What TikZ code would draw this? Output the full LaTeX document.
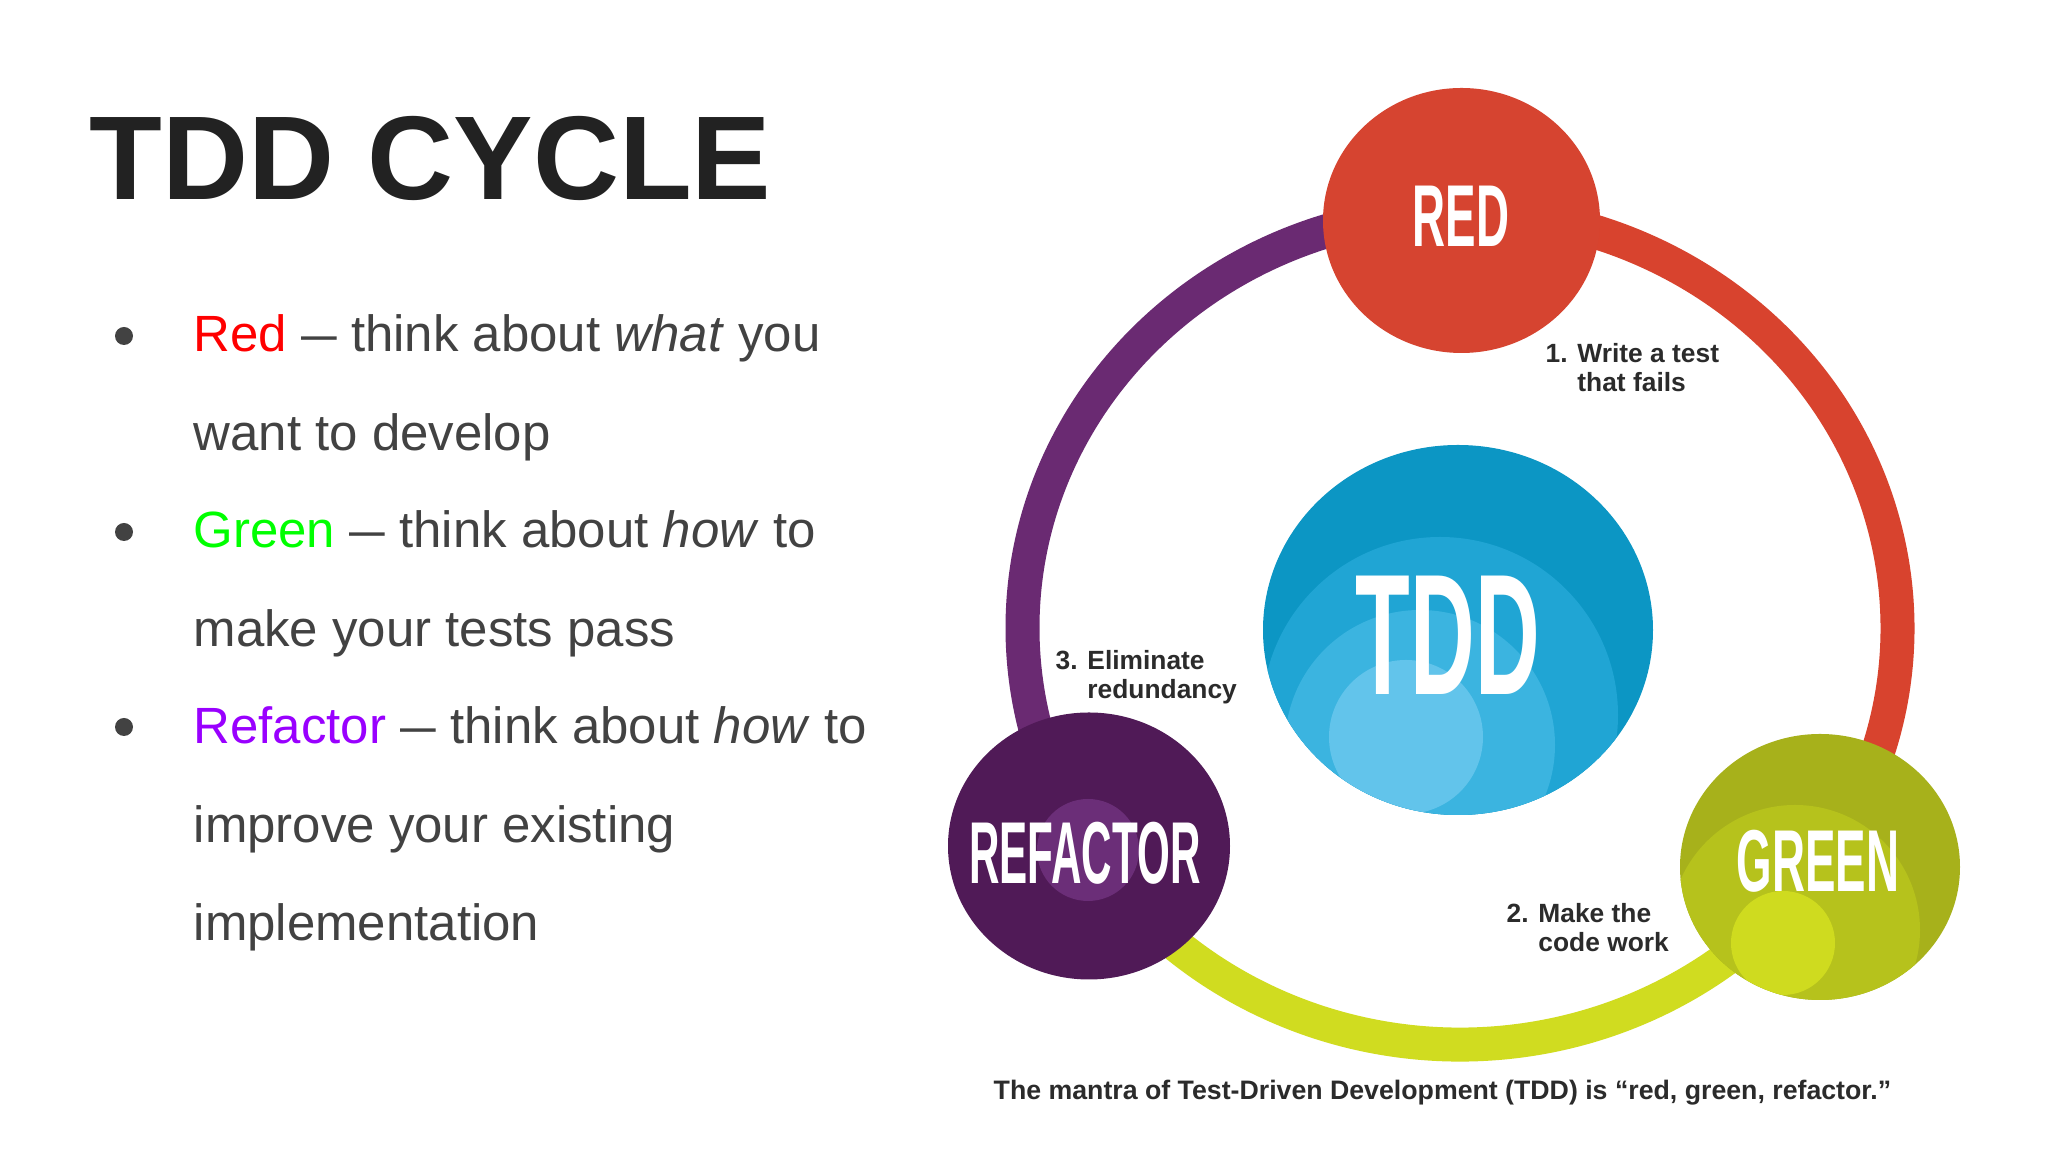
\documentclass[tikz,border=0pt]{standalone}
\usepackage{fontspec}
\setmainfont{Liberation Sans}
\newfontfamily\tallfont[FakeStretch=0.52]{Liberation Sans}
\newfontfamily\tightfont[FakeStretch=0.48]{Liberation Sans}
\usetikzlibrary{shapes.geometric}
\definecolor{titlegrey}{HTML}{222222}
\definecolor{bodygrey}{HTML}{424242}
\definecolor{stepgrey}{HTML}{2B2B2B}
\definecolor{wordred}{HTML}{FF0000}
\definecolor{wordgreen}{HTML}{00FF00}
\definecolor{wordpurple}{HTML}{9900FF}
\definecolor{redfill}{HTML}{D64430}
\definecolor{redarc}{HTML}{D8432E}
\definecolor{purplearc}{HTML}{6A2A72}
\definecolor{purplefill}{HTML}{501A57}
\definecolor{purplespot}{HTML}{6B2E78}
\definecolor{limearc}{HTML}{D0DC20}
\definecolor{limefill}{HTML}{A7B11B}
\definecolor{limemid}{HTML}{B6C21C}
\definecolor{limespot}{HTML}{CFDB1F}
\definecolor{tddfill}{HTML}{0C96C4}
\definecolor{tddmid}{HTML}{20A5D4}
\definecolor{tddlight}{HTML}{3BB4E0}
\definecolor{tddspot}{HTML}{62C4EB}
\newcommand\blob[3]{\fill[#1] ([shift={#2}]path picture bounding box.center) circle (#3);}
\newcommand\slimdash{\scalebox{0.7}[1]{—}}

\begin{document}
\begin{tikzpicture}[
  bubble/.style={ellipse,inner sep=0pt},
  bubtext/.style={inner sep=0pt,text=white,font=\tallfont\bfseries\fontsize{25}{25}\selectfont},
  ringseg/.style={line width=3.4mm},
  itemtext/.style={anchor=base west,inner sep=0pt,text=bodygrey,font=\fontsize{14.5}{27.9}\selectfont},
  steptext/.style={anchor=base west,inner sep=0pt,text=stepgrey,font=\bfseries\fontsize{7.5}{8.25}\selectfont},
  dot/.style={circle,fill=bodygrey,minimum size=1.8mm,inner sep=0pt}]
\fill[white] (0,0) rectangle (20.48,11.52);
\useasboundingbox (0,0) rectangle (20.48,11.52);

% left column
\node[anchor=base west,inner sep=0pt,text=titlegrey,font=\bfseries\fontsize{33.9}{40}\selectfont] (title) at (0.89,9.52) {TDD CYCLE};
\node[dot] (b1) at (1.24,8.16) {};
\node[dot] (b2) at (1.24,6.20) {};
\node[dot] (b3) at (1.24,4.25) {};
\node[itemtext] (redtxt) at (1.93,8.00) {\begin{tabular}[t]{@{}l@{}}\textcolor{wordred}{Red} \slimdash{} think about \textit{what} you\\want to develop\end{tabular}};
\node[itemtext] (greentxt) at (1.93,6.04) {\begin{tabular}[t]{@{}l@{}}\textcolor{wordgreen}{Green} \slimdash{} think about \textit{how} to\\make your tests pass\end{tabular}};
\node[itemtext] (reftxt) at (1.93,4.08) {\begin{tabular}[t]{@{}l@{}}\textcolor{wordpurple}{Refactor} \slimdash{} think about \textit{how} to\\improve your existing\\implementation\end{tabular}};

% the cycle
\coordinate (ring) at (14.60,5.24);
\draw[ringseg,purplearc,shift={(ring)}] (90:4.375 and 4.166) arc[start angle=90,end angle=212,x radius=4.375,y radius=4.166];
\draw[ringseg,limearc,shift={(ring)}] (212:4.375 and 4.166) arc[start angle=212,end angle=325,x radius=4.375,y radius=4.166];
\draw[ringseg,redarc,shift={(ring)}] (325:4.375 and 4.166) arc[start angle=325,end angle=450,x radius=4.375,y radius=4.166];

\node[bubble,fill=redfill,minimum width=2.77cm,minimum height=2.65cm] (red) at (14.615,9.315) {};
\node[bubble,fill=tddfill,minimum width=3.90cm,minimum height=3.70cm,
      path picture={\blob{tddmid}{(-0.18,-0.85)}{1.78}\blob{tddlight}{(-0.38,-1.15)}{1.35}\blob{tddspot}{(-0.52,-1.07)}{0.77}}] (tdd) at (14.58,5.22) {};
\node[bubble,fill=purplefill,minimum width=2.82cm,minimum height=2.67cm,
      path picture={\blob{purplespot}{(-0.01,-0.04)}{0.51}}] (refactor) at (10.89,3.06) {};
\node[bubble,fill=limefill,minimum width=2.80cm,minimum height=2.66cm,
      path picture={\blob{limemid}{(-0.25,-0.63)}{1.25}\blob{limespot}{(-0.37,-0.76)}{0.52}}] (green) at (18.20,2.85) {};

\node[bubtext] (redlbl) at (14.61,9.36) {RED};
\node[bubtext,font=\tallfont\bfseries\fontsize{49}{49}\selectfont] (tddlbl) at (14.48,5.17) {TDD};
\node[bubtext,font=\tightfont\bfseries\fontsize{25}{25}\selectfont] (reflbl) at (10.85,2.99) {REFACTOR};
\node[bubtext] (greenlbl) at (18.18,2.91) {GREEN};

% step labels
\node[steptext] (step1) at (15.45,7.89) {\begin{tabular}[t]{@{}l@{}}1. Write a test\\\phantom{1. }that fails\end{tabular}};
\node[steptext] (step2) at (15.06,2.29) {\begin{tabular}[t]{@{}l@{}}2. Make the\\\phantom{2. }code work\end{tabular}};
\node[steptext] (step3) at (10.55,4.82) {\begin{tabular}[t]{@{}l@{}}3. Eliminate\\\phantom{3. }redundancy\end{tabular}};

\node[anchor=base west,inner sep=0pt,text=stepgrey,font=\bfseries\fontsize{7.6}{9}\selectfont] (mantra) at (9.93,0.52) {The mantra of Test-Driven Development (TDD) is “red, green, refactor.”};
\end{tikzpicture}
\end{document}
